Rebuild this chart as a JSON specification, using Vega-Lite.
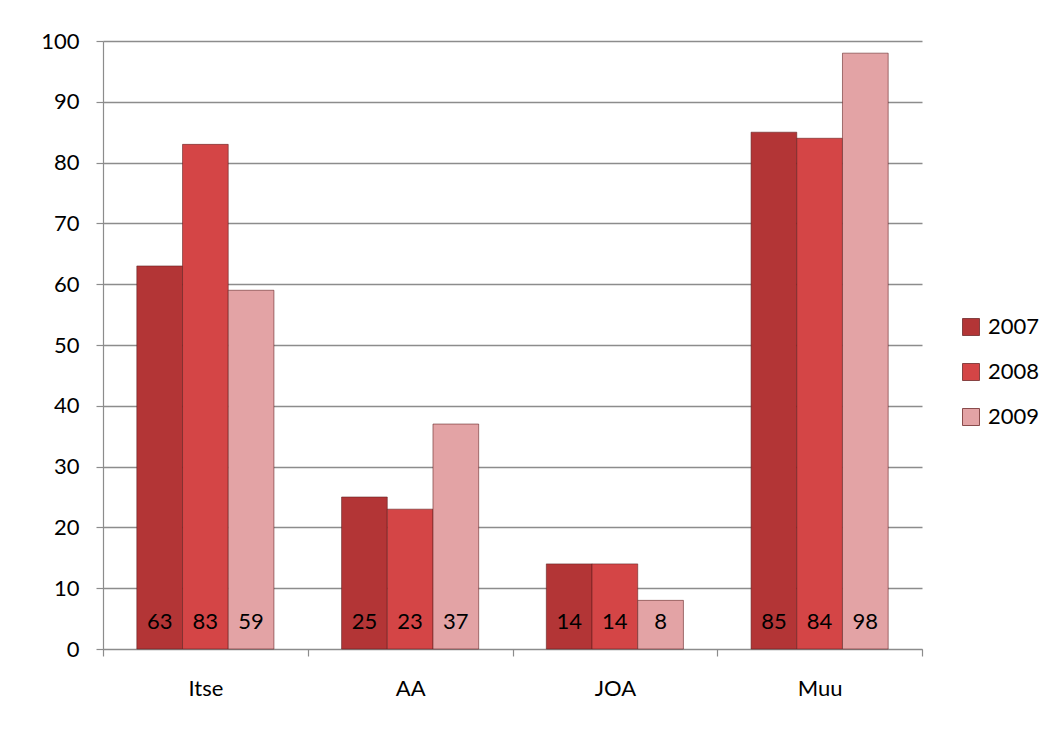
{
  "$schema": "https://vega.github.io/schema/vega-lite/v6.json",
  "autosize": "none",
  "width": 819,
  "height": 608,
  "padding": {"left": 103, "top": 41, "right": 133, "bottom": 80},
  "background": "white",
  "config": {
    "font": "Lato",
    "view": {"stroke": null},
    "axis": {"labelFont": "Lato", "labelColor": "#000000", "labelFontSize": 22, "domainColor": "#8c8c8c", "tickColor": "#8c8c8c", "domainWidth": 1.2, "tickWidth": 1.2}
  },
  "data": {
    "values": [
      {"cat": "Itse", "year": "2007", "value": 63},
      {"cat": "Itse", "year": "2008", "value": 83},
      {"cat": "Itse", "year": "2009", "value": 59},
      {"cat": "AA", "year": "2007", "value": 25},
      {"cat": "AA", "year": "2008", "value": 23},
      {"cat": "AA", "year": "2009", "value": 37},
      {"cat": "JOA", "year": "2007", "value": 14},
      {"cat": "JOA", "year": "2008", "value": 14},
      {"cat": "JOA", "year": "2009", "value": 8},
      {"cat": "Muu", "year": "2007", "value": 85},
      {"cat": "Muu", "year": "2008", "value": 84},
      {"cat": "Muu", "year": "2009", "value": 98}
    ]
  },
  "encoding": {
    "x": {
      "field": "cat", "type": "nominal", "sort": ["Itse", "AA", "JOA", "Muu"],
      "scale": {"paddingInner": 0, "paddingOuter": 0},
      "axis": {"title": null, "labelAngle": 0, "tickBand": "extent", "tickSize": 7, "labelPadding": 22}
    },
    "xOffset": {"field": "year", "type": "nominal", "scale": {"paddingInner": 0, "paddingOuter": 0.74}}
  },
  "layer": [
    {
      "mark": {"type": "bar", "stroke": "#5e1c1c", "strokeWidth": 0.8, "strokeOpacity": 0.7},
      "encoding": {
        "y": {
          "field": "value", "type": "quantitative",
          "scale": {"domain": [0, 100], "nice": false},
          "axis": {"title": null, "values": [0,10,20,30,40,50,60,70,80,90,100], "tickSize": 7, "labelPadding": 17, "gridColor": "#8c8c8c", "gridWidth": 1.3}
        },
        "color": {
          "field": "year", "type": "nominal",
          "scale": {"domain": ["2007", "2008", "2009"], "range": ["#b33536", "#d44546", "#e3a3a5"]},
          "legend": {"title": null, "orient": "none", "legendX": 857, "legendY": 275, "symbolType": "square", "symbolSize": 289, "symbolStrokeColor": "#6e2a2a", "symbolStrokeWidth": 0.8, "labelFontSize": 22, "labelFont": "Lato", "labelColor": "#000000", "rowPadding": 23, "labelOffset": 6}
        }
      }
    },
    {
      "mark": {"type": "text", "fontSize": 22, "font": "Lato", "color": "#000000", "baseline": "middle", "dy": -27},
      "encoding": {
        "y": {"datum": 0},
        "text": {"field": "value", "type": "quantitative"}
      }
    }
  ]
}
